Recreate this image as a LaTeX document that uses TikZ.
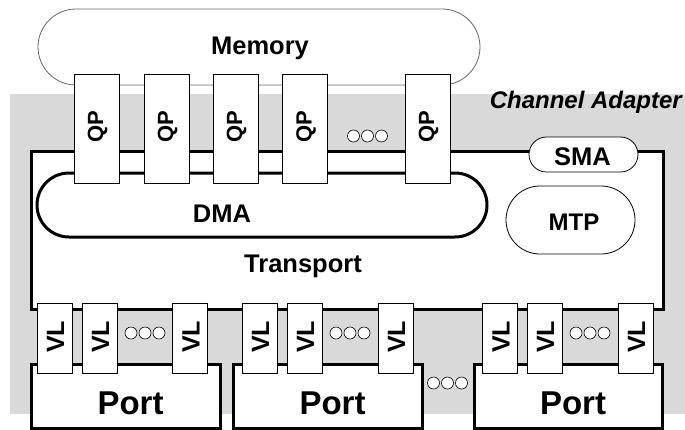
\documentclass[tikz,border=0pt]{standalone}
\usepackage{fontspec}
\setmainfont{Liberation Sans}
\definecolor{bggray}{HTML}{D9D9D9}
\begin{document}
\begin{tikzpicture}[x=1pt,y=-1pt,
  thinbox/.style={draw=black, fill=white, line width=0.8pt, inner sep=0pt, rectangle},
  thickbox/.style={draw=black, fill=white, line width=3pt, inner sep=0pt, rectangle},
  qpbox/.style={thinbox, minimum width=45pt, minimum height=109pt},
  vlbox/.style={thinbox, minimum width=35pt, minimum height=70pt},
  dotc/.style={circle, draw=black, fill=white, line width=0.6pt, inner sep=0pt, minimum size=12pt},
  lbl/.style={inner sep=0pt, font=\bfseries\fontsize{25.5}{30}\selectfont},
  rlbl/.style={inner sep=0pt, rotate=90, font=\bfseries\fontsize{#1}{#1}\selectfont},
  portlbl/.style={inner sep=0pt, anchor=base, font=\bfseries\fontsize{33}{36}\selectfont}]
\useasboundingbox (0,0) rectangle (685,429);
% gray channel adapter background
\fill[bggray] (10,94) rectangle (685,414);
% memory
\node[thinbox, draw=black!60, rounded corners=38pt, minimum width=442pt, minimum height=76pt] (mem) at (259,47) {};
\node[lbl, anchor=base] (memt) at (260,54) {Memory};
% transport
\node[thickbox, minimum width=632pt, minimum height=158pt] (trans) at (347,230.5) {};
\node[lbl, anchor=base] (transt) at (303,272) {Transport};
% DMA
\node[thickbox, rounded corners=32pt, minimum width=450pt, minimum height=64pt] (dma) at (262,205) {};
\node[lbl, anchor=base] (dmat) at (222,222) {DMA};
% SMA
\node[thinbox, rounded corners=17.5pt, minimum width=109pt, minimum height=35pt] (sma) at (583.5,154.5) {};
\node[lbl, anchor=base] (smat) at (582.5,165) {SMA};
% MTP
\node[thinbox, rounded corners=34pt, minimum width=129pt, minimum height=68pt] (mtp) at (570.5,220) {};
\node[lbl, anchor=base, font=\bfseries\fontsize{24}{28}\selectfont] (mtpt) at (574,230) {MTP};
% channel adapter label
\node[inner sep=0pt, anchor=base east, font=\bfseries\itshape\fontsize{24}{28}\selectfont] (cat) at (682,108) {Channel Adapter};
% ports
\node[thickbox, minimum width=189pt, minimum height=64pt] (p1) at (125.5,396) {};
\node[thickbox, minimum width=189pt, minimum height=64pt] (p2) at (327.5,396) {};
\node[thickbox, minimum width=188pt, minimum height=64pt] (p3) at (568,396) {};
\node[portlbl] (p1t) at (130.5,414) {Port};
\node[portlbl] (p2t) at (332.5,414) {Port};
\node[portlbl] (p3t) at (573,414) {Port};
% QP boxes
\foreach \i/\x in {1/96.5, 2/166.5, 3/235.5, 4/305, 5/427.5} {
  \node[qpbox] (qp\i) at (\x,128.5) {};
  \node[rlbl=22] (qpt\i) at (\x+1,127) {QP};
}
% VL boxes
\foreach \i/\x in {1/54.5, 2/99.5, 3/190, 4/259.5, 5/304.5, 6/395.5, 7/500, 8/544.5, 9/635.5} {
  \node[vlbox] (vl\i) at (\x,338) {};
  \node[rlbl=25] (vlt\i) at (\x+1,337) {VL};
}
% dots
\foreach \n/\cx/\cy in {q/367.5/136, a/145/333, b/350/333, c/590/333, p/447.5/383} {
  \node[dotc] (\n1) at (\cx-14,\cy) {};
  \node[dotc] (\n2) at (\cx,\cy) {};
  \node[dotc] (\n3) at (\cx+14,\cy) {};
}
\end{tikzpicture}
\end{document}
